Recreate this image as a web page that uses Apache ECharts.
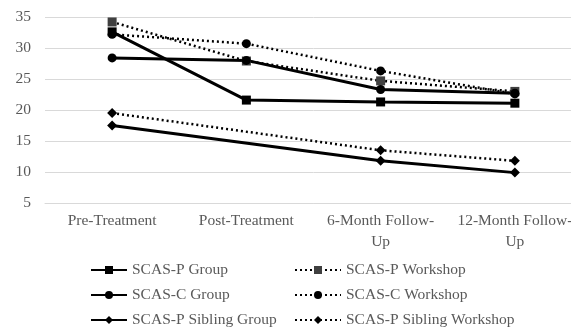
<!DOCTYPE html>
<html>
<head>
<meta charset="utf-8">
<script src="https://cdn.jsdelivr.net/npm/echarts@6/dist/echarts.min.js"></script>
<style>
  html, body { margin: 0; padding: 0; background: #fff; overflow: hidden; }
  /* the plot runs past the right edge in the original, so the canvas is a bit bigger than the window */
  #chart { width: 582px; height: 360px; }
</style>
</head>
<body>
<div id="chart"></div>
<script>
// data
const categories = ['Pre-Treatment', 'Post-Treatment', '6-Month Follow-\nUp', '12-Month Follow-\nUp'];
const scasPGroup = [32.6, 21.6, 21.3, 21.1];
const scasPWorkshop = [34.2, 27.9, 24.7, 23.0];
const scasCGroup = [28.4, 28.0, 23.3, 22.7];
const scasCWorkshop = [32.2, 30.7, 26.3, 22.6];
const sibGroup = [17.5, null, 11.8, 9.9];
const sibWorkshop = [19.5, null, 13.5, 11.8];

const textColor = '#595959';
const font = 'Liberation Serif';

const chart = echarts.init(document.getElementById('chart'));

// helper for one line series
function makeSeries(name, data, symbol, size, dotted, color) {
  return {
    name: name,
    type: 'line',
    data: data,
    connectNulls: true,
    symbol: symbol,
    symbolSize: size,
    animation: false,
    itemStyle: { color: color || '#000' },
    lineStyle: {
      color: '#000',
      width: dotted ? 2.5 : 3,
      type: dotted ? [2, 3] : 'solid',
    },
  };
}

const legendText = { color: textColor, fontFamily: font, fontSize: 15.5, lineHeight: 16 };

chart.setOption({
  grid: { left: 45, right: 0, top: 17, bottom: 157 },
  xAxis: {
    type: 'category',
    data: categories,
    axisLine: { lineStyle: { color: '#d9d9d9' } },
    axisTick: { show: false },
    axisLabel: {
      color: textColor,
      fontFamily: font,
      fontSize: 15.5,
      lineHeight: 21,
      margin: 7,
      interval: 0,
    },
  },
  yAxis: {
    type: 'value',
    min: 5,
    max: 35,
    interval: 5,
    axisLine: { show: false },
    axisTick: { show: false },
    splitLine: { lineStyle: { color: '#d9d9d9', width: 1 } },
    axisLabel: { color: textColor, fontFamily: font, fontSize: 15.5, margin: 14 },
  },
  legend: [
    {
      orient: 'vertical',
      left: 85,
      top: 257,
      itemWidth: 36,
      itemHeight: 10,
      itemGap: 9,
      textStyle: legendText,
      data: ['SCAS-P Group', 'SCAS-C Group', 'SCAS-P Sibling Group'],
    },
    {
      orient: 'vertical',
      left: 289,
      top: 257,
      itemWidth: 46,
      itemHeight: 10,
      itemGap: 9,
      textStyle: legendText,
      data: ['SCAS-P Workshop', 'SCAS-C Workshop', 'SCAS-P Sibling Workshop'],
    },
  ],
  series: [
    makeSeries('SCAS-P Group', scasPGroup, 'rect', 9, false),
    makeSeries('SCAS-P Workshop', scasPWorkshop, 'rect', 9, true, '#404040'),
    makeSeries('SCAS-C Group', scasCGroup, 'circle', 9, false),
    makeSeries('SCAS-C Workshop', scasCWorkshop, 'circle', 9, true),
    makeSeries('SCAS-P Sibling Group', sibGroup, 'diamond', 10, false),
    makeSeries('SCAS-P Sibling Workshop', sibWorkshop, 'diamond', 10, true),
  ],
});
</script>
</body>
</html>
